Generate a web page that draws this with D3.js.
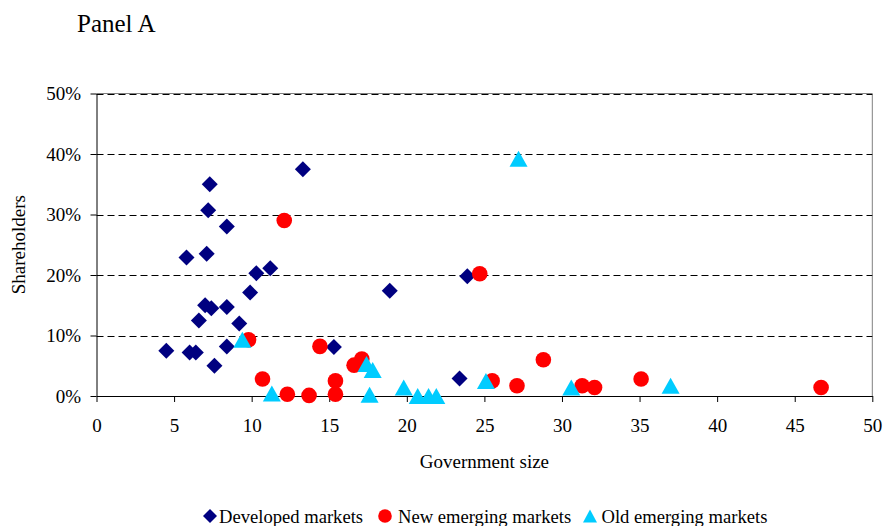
<!DOCTYPE html>
<html>
<head>
<meta charset="utf-8">
<script src="https://cdn.jsdelivr.net/npm/d3@7/dist/d3.min.js"></script>
<style>
  html, body { margin: 0; padding: 0; background: #fff; }
  svg { display: block; font-family: "Liberation Serif", "Times New Roman", serif; }
</style>
</head>
<body>
<svg id="chart" width="883" height="526"></svg>
<script>
// Government size (x) vs. shareholders (% , y) by market group
const developedX = [4.5, 6.0, 6.4, 7.6, 8.4, 9.2, 9.9, 10.3, 11.2, 6.6, 7.0, 7.4, 8.4, 5.8, 7.1, 8.4, 7.2, 7.3, 13.3, 15.3, 18.9, 23.9, 23.4];
const developedY = [7.5, 7.2, 7.2, 5.0, 8.2, 12.0, 17.1, 20.3, 21.1, 12.5, 15.0, 14.5, 14.7, 22.9, 23.5, 28.0, 30.7, 35.0, 37.5, 8.1, 17.4, 19.8, 2.9];

const newX = [9.8, 10.7, 12.1, 12.3, 13.7, 14.4, 15.4, 15.4, 16.6, 17.1, 24.7, 25.5, 27.1, 28.8, 31.3, 32.1, 35.1, 46.7];
const newY = [9.3, 2.8, 29.0, 0.3, 0.1, 8.2, 2.5, 0.3, 5.1, 6.1, 20.2, 2.5, 1.7, 6.0, 1.7, 1.4, 2.8, 1.4];

const oldX = [9.4, 11.3, 17.4, 17.8, 17.6, 19.8, 20.7, 21.4, 21.9, 25.1, 27.2, 30.6, 37.0];
const oldY = [9.3, 0.4, 5.3, 4.3, 0.2, 1.4, 0.0, 0.0, 0.0, 2.5, 39.2, 1.4, 1.7];

const xTicks = [0, 5, 10, 15, 20, 25, 30, 35, 40, 45, 50];
const yTicks = [0, 10, 20, 30, 40, 50];

const seriesNames = ["Developed markets", "New emerging markets", "Old emerging markets"];
const seriesColors = ["#000080", "#FF0000", "#00CCFF"];

const svg = d3.select("#chart");
const plotLeft = 96.5, plotRight = 872.3, plotTop = 93.5, plotBottom = 396;

const x = d3.scaleLinear().domain([0, 50]).range([plotLeft, plotRight]);
const y = d3.scaleLinear().domain([0, 50]).range([plotBottom, plotTop]);

// Title
svg.append("text")
  .attr("x", 77).attr("y", 31.5)
  .attr("font-size", 25)
  .text("Panel A");

// Plot area border (top and right)
svg.append("path")
  .attr("d", `M${plotLeft},${plotTop}H${plotRight}V${plotBottom}`)
  .attr("fill", "none").attr("stroke", "#808080").attr("stroke-width", 1);

// Dashed horizontal gridlines
svg.append("g").selectAll("line")
  .data(yTicks.filter(d => d > 0))
  .join("line")
  .attr("x1", plotLeft).attr("x2", plotRight)
  .attr("y1", d => Math.round(y(d)) + 0.5).attr("y2", d => Math.round(y(d)) + 0.5)
  .attr("stroke", "#000").attr("stroke-width", 1)
  .attr("stroke-dasharray", "7,4");

// Axes
const xAxis = d3.axisBottom(x).tickValues(xTicks).tickSize(6).tickSizeOuter(0).tickPadding(16.5)
  .tickFormat(d3.format("d"));
const yAxis = d3.axisLeft(y).tickValues(yTicks).tickSize(6).tickSizeOuter(0).tickPadding(9.5)
  .tickFormat(d => d + "%");

const gx = svg.append("g").attr("transform", `translate(0,${plotBottom})`).call(xAxis);
const gy = svg.append("g").attr("transform", `translate(${plotLeft},0)`).call(yAxis);
[gx, gy].forEach(g => {
  g.selectAll("text").attr("font-size", 19).attr("font-family", "'Liberation Serif', 'Times New Roman', serif").attr("fill", "#000");
  g.selectAll("line, path").attr("stroke", "#000");
});

// Axis titles
svg.append("text")
  .attr("x", (plotLeft + plotRight) / 2).attr("y", 467.5)
  .attr("text-anchor", "middle").attr("font-size", 19)
  .text("Government size");

svg.append("text")
  .attr("transform", `translate(25,${(plotTop + plotBottom) / 2}) rotate(-90)`)
  .attr("text-anchor", "middle").attr("font-size", 19)
  .text("Shareholders");

// Marker shapes
const diamond = r => `M0,${-r}L${r},0L0,${r}L${-r},0Z`;
const triangle = (w, h) => `M0,${-h / 2}L${w / 2},${h / 2}L${-w / 2},${h / 2}Z`;

const developed = developedX.map((v, i) => ({ x: v, y: developedY[i] }));
const emergingNew = newX.map((v, i) => ({ x: v, y: newY[i] }));
const emergingOld = oldX.map((v, i) => ({ x: v, y: oldY[i] }));

svg.append("g").selectAll("path")
  .data(developed).join("path")
  .attr("d", diamond(8))
  .attr("transform", d => `translate(${x(d.x)},${y(d.y)})`)
  .attr("fill", seriesColors[0]);

svg.append("g").selectAll("circle")
  .data(emergingNew).join("circle")
  .attr("cx", d => x(d.x)).attr("cy", d => y(d.y)).attr("r", 7.8)
  .attr("fill", seriesColors[1]);

svg.append("g").selectAll("path")
  .data(emergingOld).join("path")
  .attr("d", triangle(18, 16))
  .attr("transform", d => `translate(${x(d.x)},${y(d.y)})`)
  .attr("fill", seriesColors[2]);

// Legend
const legend = svg.append("g");
const legendItems = [
  { name: seriesNames[0], mx: 210, tx: 219 },
  { name: seriesNames[1], mx: 385, tx: 398 },
  { name: seriesNames[2], mx: 590, tx: 601.5 }
];
const ly = 516;
legend.append("path").attr("d", diamond(7)).attr("transform", `translate(${legendItems[0].mx},${ly})`).attr("fill", seriesColors[0]);
legend.append("circle").attr("cx", legendItems[1].mx).attr("cy", ly).attr("r", 6.8).attr("fill", seriesColors[1]);
legend.append("path").attr("d", triangle(14, 13)).attr("transform", `translate(${legendItems[2].mx},${ly})`).attr("fill", seriesColors[2]);
legend.selectAll("text").data(legendItems).join("text")
  .attr("x", d => d.tx).attr("y", 522.5)
  .attr("font-size", 18.6)
  .text(d => d.name);
</script>
</body>
</html>
